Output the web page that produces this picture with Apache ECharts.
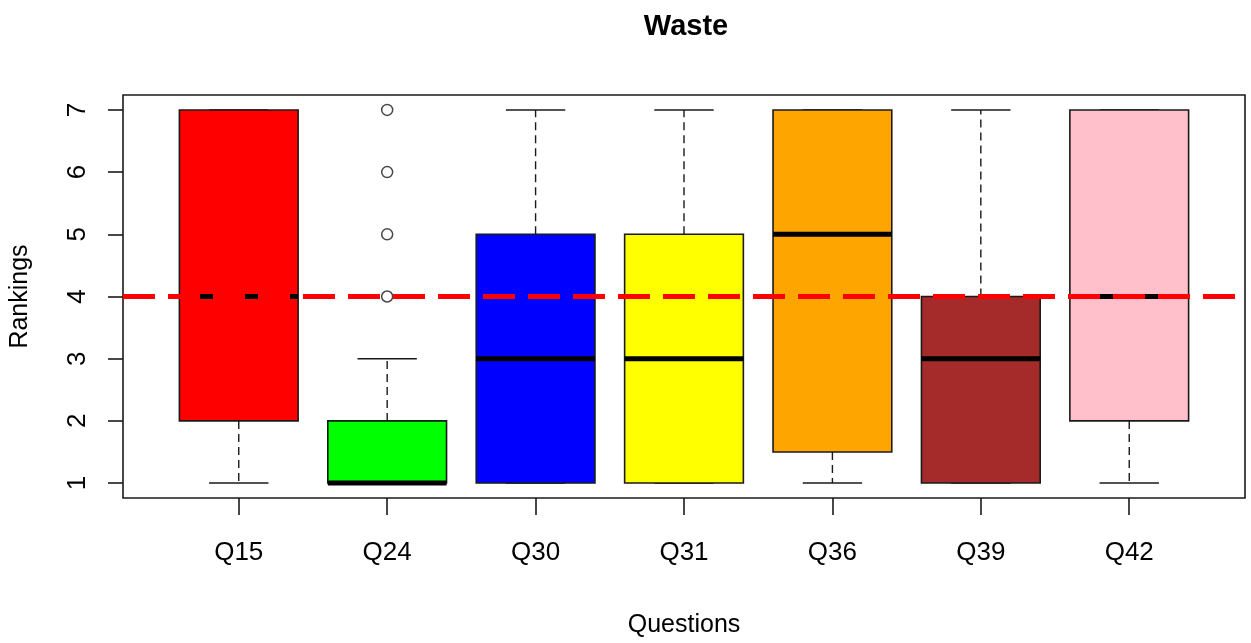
<!DOCTYPE html>
<html>
<head>
<meta charset="utf-8">
<title>Waste</title>
<script src="https://cdn.jsdelivr.net/npm/echarts@6/dist/echarts.min.js"></script>
<style>
  html, body { margin: 0; padding: 0; background: #fff; }
  #chart { width: 1251px; height: 643px; }
</style>
</head>
<body>
<div id="chart"></div>
<script>
// Questions on the x axis, one box per question
const categories = ['Q15', 'Q24', 'Q30', 'Q31', 'Q36', 'Q39', 'Q42'];
// Five-number summaries of the rankings
const lowerWhisker = [1, 1, 1, 1, 1, 1, 1];
const lowerHinge   = [2, 1, 1, 1, 1.5, 1, 2];
const medians      = [4, 1, 3, 3, 5, 3, 4];
const upperHinge   = [7, 2, 5, 5, 7, 4, 7];
const upperWhisker = [7, 3, 7, 7, 7, 7, 7];
// Points beyond the whiskers: [question index, ranking]
const outliers = [[1, 4], [1, 5], [1, 6], [1, 7]];
// Box fill colours
const boxColors = ['#FF0000', '#00FF00', '#0000FF', '#FFFF00', '#FFA500', '#A52A2A', '#FFC0CB'];
// Tick values
const yTicks = [1, 2, 3, 4, 5, 6, 7];
const xTicks = [1, 2, 3, 4, 5, 6, 7];
// Reference line
const referenceLevel = 4;

const FONT = '"Liberation Sans", Arial, sans-serif';
const INK = '#1a1a1a';

const boxData = categories.map((c, i) => [
  i + 1, lowerWhisker[i], lowerHinge[i], medians[i], upperHinge[i], upperWhisker[i], i
]);
const outlierData = outliers.map(o => [o[0] + 1, o[1]]);

function renderBox(params, api) {
  const x = api.value(0);
  const idx = api.value(6);
  const lo = api.coord([x, api.value(1)]);
  const q1 = api.coord([x, api.value(2)]);
  const md = api.coord([x, api.value(3)]);
  const q3 = api.coord([x, api.value(4)]);
  const hi = api.coord([x, api.value(5)]);
  const boxW = api.size([0.8, 0])[0];
  const capW = boxW / 2;
  const cx = md[0];
  const whisk = { stroke: INK, lineWidth: 1.4, lineDash: [8, 5] };
  const solid = { stroke: INK, lineWidth: 1.6 };
  return {
    type: 'group',
    children: [
      { type: 'line', shape: { x1: cx, y1: q1[1], x2: cx, y2: lo[1] }, style: whisk },
      { type: 'line', shape: { x1: cx, y1: q3[1], x2: cx, y2: hi[1] }, style: whisk },
      { type: 'line', shape: { x1: cx - capW / 2, y1: lo[1], x2: cx + capW / 2, y2: lo[1] }, style: solid },
      { type: 'line', shape: { x1: cx - capW / 2, y1: hi[1], x2: cx + capW / 2, y2: hi[1] }, style: solid },
      { type: 'rect',
        shape: { x: cx - boxW / 2, y: q3[1], width: boxW, height: q1[1] - q3[1] },
        style: { fill: boxColors[idx], stroke: INK, lineWidth: 1.6 } },
      { type: 'line', shape: { x1: cx - boxW / 2, y1: md[1], x2: cx + boxW / 2, y2: md[1] },
        style: { stroke: '#000', lineWidth: 5 } }
    ]
  };
}

const chart = echarts.init(document.getElementById('chart'), null, { renderer: 'canvas' });
chart.setOption({
  animation: false,
  backgroundColor: '#ffffff',
  title: {
    text: 'Waste',
    left: 681,
    top: 7,
    textAlign: 'center',
    textStyle: { fontFamily: FONT, fontWeight: 'bold', fontSize: 29, color: '#000' }
  },
  grid: {
    left: 122, right: 6, top: 95, bottom: 144,
    show: true, borderColor: INK, borderWidth: 1.6, backgroundColor: 'transparent'
  },
  xAxis: {
    type: 'value',
    min: 0.22, max: 7.78,
    name: 'Questions',
    nameLocation: 'middle',
    nameGap: 115,
    nameTextStyle: { fontFamily: FONT, fontSize: 25, color: '#000' },
    axisLine: { show: false },
    splitLine: { show: false },
    axisTick: { show: true, length: 17, customValues: xTicks, lineStyle: { color: INK, width: 1.6 } },
    axisLabel: {
      customValues: xTicks,
      formatter: v => categories[Math.round(v) - 1] || '',
      margin: 42,
      fontFamily: FONT, fontSize: 26, color: '#000'
    }
  },
  yAxis: {
    type: 'value',
    min: 0.76, max: 7.24,
    name: 'Rankings',
    nameLocation: 'middle',
    nameGap: 90,
    nameRotate: 90,
    nameTextStyle: { fontFamily: FONT, fontSize: 25, color: '#000' },
    axisLine: { show: false },
    splitLine: { show: false },
    axisTick: { show: true, length: 15, customValues: yTicks, lineStyle: { color: INK, width: 1.6 } },
    axisLabel: {
      customValues: yTicks,
      rotate: 90,
      margin: 32,
      fontFamily: FONT, fontSize: 26, color: '#000'
    }
  },
  series: [
    {
      type: 'custom',
      renderItem: renderBox,
      encode: { x: 0, y: [1, 2, 3, 4, 5] },
      data: boxData,
      z: 2
    },
    {
      type: 'scatter',
      data: outlierData,
      symbol: 'circle',
      symbolSize: 11,
      itemStyle: { color: 'rgba(0,0,0,0)', borderColor: INK, borderWidth: 1.5 },
      z: 3
    },
    {
      type: 'line',
      data: [],
      z: 4,
      markLine: {
        silent: true,
        symbol: ['none', 'none'],
        label: { show: false },
        lineStyle: { color: '#FF0000', width: 5, type: [32, 13], cap: 'butt' },
        data: [{ yAxis: referenceLevel }]
      }
    }
  ]
});
</script>
</body>
</html>
